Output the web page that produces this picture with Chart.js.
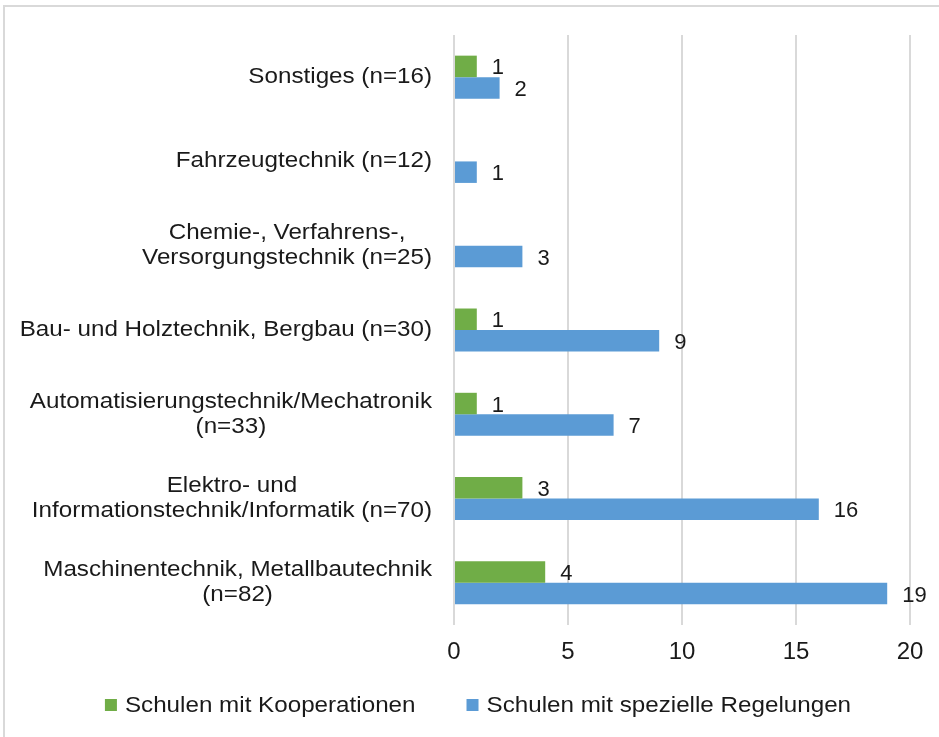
<!DOCTYPE html>
<html>
<head>
<meta charset="utf-8">
<script src="https://cdn.jsdelivr.net/npm/chart.js@4.4.0/dist/chart.umd.min.js"></script>
<style>
  html, body { margin: 0; padding: 0; background: #fff; }
  #wrap { width: 939px; height: 737px; position: relative; }
</style>
</head>
<body>
<div id="wrap"><canvas id="myChart"></canvas></div>
<script>
var ctx = document.querySelector('#myChart');

// categories top to bottom
var categoryLabels = [
  'Sonstiges (n=16)',
  'Fahrzeugtechnik (n=12)',
  ['Chemie-, Verfahrens-,', 'Versorgungstechnik (n=25)'],
  'Bau- und Holztechnik, Bergbau (n=30)',
  ['Automatisierungstechnik/Mechatronik', '(n=33)'],
  ['Elektro- und', 'Informationstechnik/Informatik (n=70)'],
  ['Maschinentechnik, Metallbautechnik', '(n=82)']
];
var kooperationenValues = [1, null, null, 1, 1, 3, 4];
var regelungenValues = [2, 1, 3, 9, 7, 16, 19];
var xTicks = [0, 5, 10, 15, 20];

const FONT = '"Liberation Sans", Arial, sans-serif';
const TEXT_COLOR = '#1a1a1a';
const STRETCH = 1.1; // the original text is a bit wide

function stretchedWidth(c, text){
  return c.measureText(text).width * STRETCH;
}

function drawStretched(c, text, x, y, align){
  c.save();
  c.translate(x, y);
  c.scale(STRETCH, 1);
  c.textAlign = align;
  c.fillText(text, 0, 0);
  c.restore();
}

// Excel-style category labels: block right aligned, lines centered
var categoryLabelPlugin = {
  id: 'categoryLabels',
  afterDraw(chart) {
    var c = chart.ctx;
    var yScale = chart.scales.y;
    c.save();
    c.font = '22px ' + FONT;
    c.fillStyle = TEXT_COLOR;
    c.textBaseline = 'middle';
    categoryLabels.forEach((lbl, i) => {
      var lines = Array.isArray(lbl) ? lbl : [lbl];
      var w = Math.max(...lines.map(l => stretchedWidth(c, l)));
      var cx = chart.chartArea.left - 22 - w / 2;
      var cy = yScale.getPixelForTick(i);
      var lh = 25;
      lines.forEach((l, j) => {
        drawStretched(c, l, cx, cy + (j - (lines.length - 1) / 2) * lh, 'center');
      });
    });
    c.restore();
  }
};

var valueLabelPlugin = {
  id: 'valueLabels',
  afterDatasetsDraw(chart) {
    var c = chart.ctx;
    c.save();
    c.font = '22px ' + FONT;
    c.fillStyle = TEXT_COLOR;
    c.textBaseline = 'middle';
    c.textAlign = 'left';
    chart.data.datasets.forEach((ds, di) => {
      chart.getDatasetMeta(di).data.forEach((bar, i) => {
        var v = ds.data[i];
        if (v === null || v === undefined) return;
        c.fillText(String(v), bar.x + 15, bar.y + 2);
      });
    });
    c.restore();
  }
};

// legend drawn by hand so the gap between items can be wide
var legendPlugin = {
  id: 'wideLegend',
  afterDraw(chart) {
    var c = chart.ctx;
    c.save();
    c.font = '22px ' + FONT;
    c.textBaseline = 'middle';
    var box = 12, boxGap = 8, itemGap = 51;
    var items = chart.data.datasets.map(ds => ({
      text: ds.label,
      color: ds.backgroundColor,
      w: box + boxGap + stretchedWidth(c, ds.label)
    }));
    var total = items.reduce((s, it) => s + it.w, 0) + itemGap * (items.length - 1);
    var x = 478 - total / 2;
    var y = 705;
    items.forEach(it => {
      c.fillStyle = it.color;
      c.fillRect(x, y - box / 2, box, box);
      c.fillStyle = TEXT_COLOR;
      drawStretched(c, it.text, x + box + boxGap, y + 1, 'left');
      x += it.w + itemGap;
    });
    c.restore();
  }
};

var framePlugin = {
  id: 'frame',
  beforeDraw(chart) {
    var c = chart.ctx;
    c.save();
    c.strokeStyle = '#d9d9d9';
    c.lineWidth = 2;
    c.strokeRect(4, 6, chart.width + 10, chart.height + 10);
    c.restore();
  }
};

var chart = new Chart(ctx, {
  type: 'bar',
  data: {
    labels: categoryLabels,
    datasets: [
      {
        label: 'Schulen mit Kooperationen',
        data: kooperationenValues,
        backgroundColor: '#70AD47',
        categoryPercentage: 0.51,
        barPercentage: 1
      },
      {
        label: 'Schulen mit spezielle Regelungen',
        data: regelungenValues,
        backgroundColor: '#5B9BD5',
        categoryPercentage: 0.51,
        barPercentage: 1
      }
    ]
  },
  plugins: [framePlugin, categoryLabelPlugin, valueLabelPlugin, legendPlugin],
  options: {
    indexAxis: 'y',
    responsive: true,
    maintainAspectRatio: false,
    animation: false,
    layout: { padding: { top: 35, left: 0, right: 29, bottom: 54 } },
    scales: {
      x: {
        min: 0,
        max: 20,
        afterBuildTicks(scale) {
          scale.ticks = xTicks.map(v => ({ value: v }));
        },
        afterFit(scale) { scale.height = 58; },
        grid: { color: '#d9d9d9', lineWidth: 2, drawTicks: false },
        border: { display: false },
        ticks: {
          padding: 13,
          color: TEXT_COLOR,
          font: { family: FONT, size: 24 }
        }
      },
      y: {
        afterFit(scale) { scale.width = 454; },
        grid: { display: false },
        border: { display: false },
        ticks: { display: false }
      }
    },
    plugins: {
      tooltip: { enabled: false },
      legend: { display: false }
    }
  }
});
</script>
</body>
</html>
